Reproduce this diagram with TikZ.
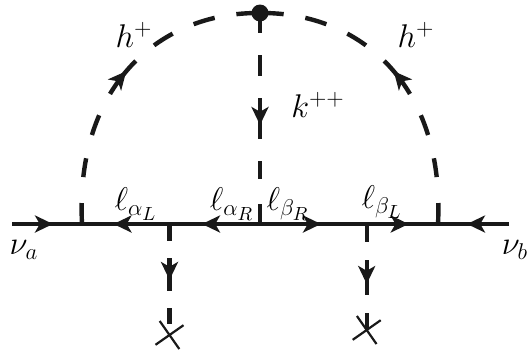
\documentclass[tikz,border=0pt]{standalone}
\usepackage{xcolor}
\usepackage{tikz}
\usetikzlibrary{arrows.meta,decorations.markings,shapes.misc}

\begin{document}
\begin{tikzpicture}[
  x=0.5pt, y=-0.5pt,
  fermion/.style={line width=2.3pt, black!90},
  scalar/.style={line width=2.2pt, black!90},
  arcdash/.style={dash pattern=on 10.5pt off 13pt on 9.5pt off 12pt on 10.5pt off 12pt on 21pt off 12pt on 11pt off 11.5pt on 11pt off 11pt on 11pt},
  topdash/.style={dash pattern=on 10pt off 11pt on 10.5pt off 11pt on 20.5pt off 11pt on 9pt off 12.5pt on 10.5pt},
  leftdash/.style={dash pattern=on 8.5pt off 8.5pt on 16.5pt off 8.5pt on 8pt off 50pt},
  rightdash/.style={dash pattern=on 9pt off 9pt on 17.5pt off 9pt on 8.5pt off 50pt},
  tipat/.style={postaction={decorate, decoration={markings, mark=at position #1 with {\arrow{Stealth[length=9pt, width=8.5pt, inset=2.4pt]}}}}},
  vertexdot/.style={circle, fill=black!90, inner sep=0pt, minimum size=8.5pt},
  crossmark/.style={cross out, draw=black!90, line width=1.1pt, inner sep=0pt, minimum size=11pt, rotate=-10},
  lbl/.style={inner sep=0pt, font=\LARGE, scale=0.95}
]
\useasboundingbox (0,0) rectangle (528,354);
\coordinate (inl) at (12,224);
\coordinate (footl) at (82,224);
\coordinate (massl) at (169.5,224);
\coordinate (mid) at (260,224);
\coordinate (massr) at (366.7,224);
\coordinate (footr) at (438,224);
\coordinate (inr) at (509,224);
\node[vertexdot] (top) at (260,13) {};
\node[crossmark] (crossl) at (169.5,335) {};
\node[crossmark] (crossr) at (366.7,330) {};
% fermion line
\draw[fermion, tipat=20.5pt] (inl) -- (footl);
\draw[fermion, tipat=28pt] (massl) -- (footl);
\draw[fermion, tipat=29pt] (mid) -- (massl);
\draw[fermion, tipat=30.5pt] (mid) -- (massr);
\draw[fermion, tipat=21pt] (massr) -- (footr);
\draw[fermion, tipat=21pt] (inr) -- (footr);
% scalar lines
\draw[scalar, arcdash, tipat=81.5pt] (footl) .. controls (75,85) and (160,12) .. (top.center);
\draw[scalar, arcdash, tipat=81.5pt] (footr) .. controls (445,85) and (360,12) .. (top.center);
\draw[scalar, topdash, tipat=56pt] (top.center) -- (mid);
\draw[scalar, leftdash, tipat=28pt] (massl) -- (crossl.center);
\draw[scalar, rightdash, tipat=30pt] (massr) -- (crossr.center);
% labels
\node[lbl] (hl) at (134,35) {$h^+$};
\node[lbl] (hr) at (416,35) {$h^+$};
\node[lbl] (kpp) at (318,105) {$k^{++}$};
\node[lbl] (nua) at (24,250) {$\nu_a$};
\node[lbl] (nub) at (515,250) {$\nu_b$};
\node[lbl] (lal) at (136,204) {$\ell_{\alpha_L}$};
\node[lbl] (lar) at (232,204) {$\ell_{\alpha_R}$};
\node[lbl] (lbr) at (288,204) {$\ell_{\beta_R}$};
\node[lbl] (lbl) at (382,202) {$\ell_{\beta_L}$};
\end{tikzpicture}
\end{document}
